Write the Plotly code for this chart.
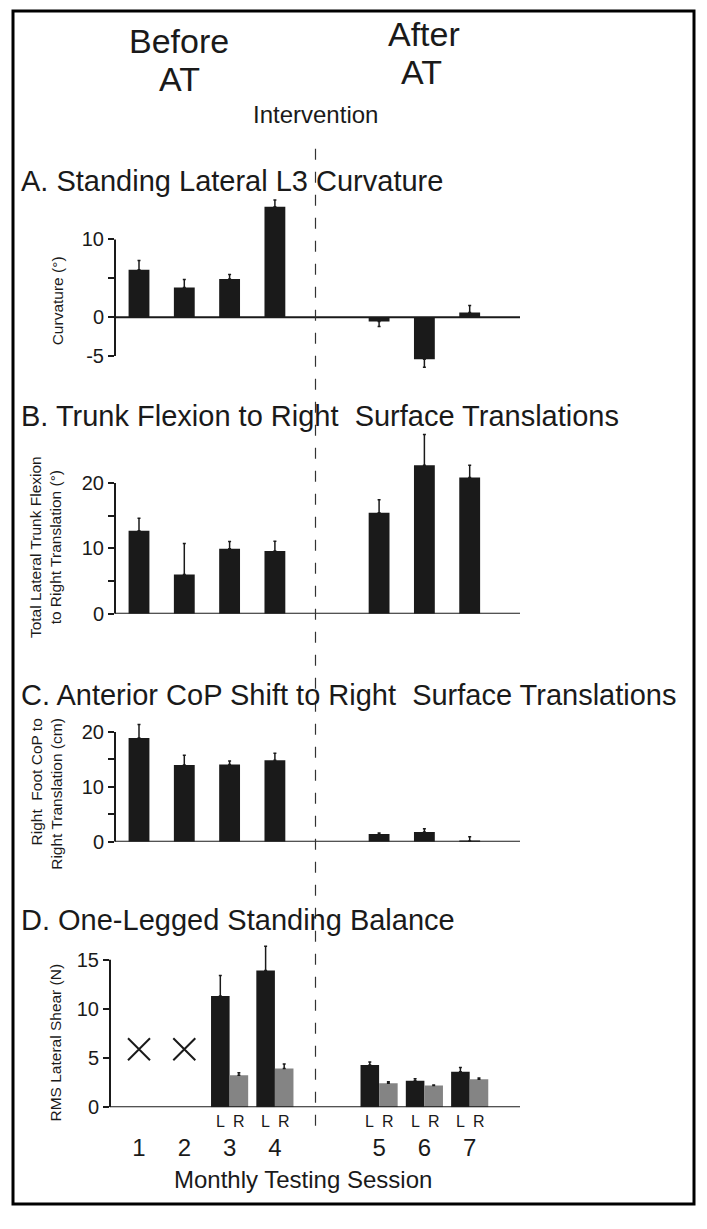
import plotly.graph_objects as go

# ---------------- data ----------------
sessions = [1, 2, 3, 4, 5, 6, 7]
session_labels = ["1", "2", "3", "4", "5", "6", "7"]

curvature = [6.1, 3.8, 4.9, 14.2, -0.55, -5.4, 0.6]
curvature_err = [1.2, 1.05, 0.6, 0.85, 0.65, 1.05, 0.9]

trunk_flexion = [12.7, 6.0, 9.95, 9.6, 15.45, 22.7, 20.85]
trunk_flexion_err = [1.9, 4.75, 1.1, 1.5, 2.0, 4.7, 1.85]

cop_shift = [18.9, 14.0, 14.1, 14.85, 1.4, 1.75, 0.1]
cop_shift_err = [2.5, 1.75, 0.6, 1.3, 0.2, 0.6, 0.8]

lr_sessions = [3, 4, 5, 6, 7]
shear_left = [11.3, 13.9, 4.3, 2.7, 3.6]
shear_left_err = [2.1, 2.45, 0.3, 0.2, 0.45]
shear_right = [3.25, 3.95, 2.45, 2.2, 2.85]
shear_right_err = [0.25, 0.45, 0.15, 0.05, 0.13]

missing_sessions = [1, 2]
missing_marker_level = [5.9, 5.9]

# ---------------- layout constants ----------------
PAGE_W, PAGE_H = 707, 1229
BODY_MARGIN = 8          # default page margin around the plot div
W, H = PAGE_W - 2 * BODY_MARGIN, PAGE_H - 2 * BODY_MARGIN
FONT = "Liberation Sans, Arial, Helvetica, sans-serif"
DARK = "#1a1a1a"
GREY = "#848484"
INTERVENTION_GAP = 1.3
PX_PER_SESSION = 45.3
SESSION1_PX = 139.0
BAR_W = 0.46
PAIR_W = 0.41


def xpos(s):
    return s + (INTERVENTION_GAP if s > 4 else 0)


def px_to_x(px):
    return 1 + (px - SESSION1_PX) / PX_PER_SESSION


def xp(px):
    return (px - BODY_MARGIN) / W


def yp(px):
    return 1 - (px - BODY_MARGIN) / H


def sfx(i):
    return "" if i == 1 else str(i)


# panel geometry (page pixels): x-left, x-right, top, bottom, zero line, px per unit
panels = {
    1: dict(xl=115, xr=520, top=195, bot=378, zero=320.0, ppu=7.85,
            tickvals=[-5, 0, 5, 10], ticktext=["-5", "0", "", "10"], axis=(-5, 10)),
    2: dict(xl=115, xr=520, top=430, bot=619.3, zero=619.3, ppu=6.6,
            tickvals=[0, 5, 10, 15, 20], ticktext=["0", "", "10", "", "20"], axis=(0, 20)),
    3: dict(xl=115, xr=520, top=725, bot=849.3, zero=849.3, ppu=5.53,
            tickvals=[0, 5, 10, 15, 20], ticktext=["0", "", "10", "", "20"], axis=(0, 20)),
    4: dict(xl=110, xr=520, top=948, bot=1117.3, zero=1117.3, ppu=9.93,
            tickvals=[0, 5, 10, 15], ticktext=["0", "5", "10", "15"], axis=(0, 15)),
}

fig = go.Figure()


def err(values, errs):
    up = [e if v >= 0 else 0 for v, e in zip(values, errs)]
    dn = [e if v < 0 else 0 for v, e in zip(values, errs)]
    return dict(type="data", symmetric=False, array=up, arrayminus=dn,
                color=DARK, thickness=1.5, width=1.5)


single_series = {1: (curvature, curvature_err), 2: (trunk_flexion, trunk_flexion_err),
                 3: (cop_shift, cop_shift_err)}
for i, (vals, errs) in single_series.items():
    fig.add_trace(go.Bar(
        x=[xpos(s) for s in sessions], y=vals, width=BAR_W,
        marker=dict(color=DARK, line=dict(width=0)),
        error_y=err(vals, errs),
        xaxis=f"x{sfx(i)}", yaxis=f"y{sfx(i)}", showlegend=False))

fig.add_trace(go.Bar(
    x=[xpos(s) for s in lr_sessions], y=shear_left, width=PAIR_W, offset=-PAIR_W,
    marker=dict(color=DARK, line=dict(width=0)),
    error_y=err(shear_left, shear_left_err),
    xaxis="x4", yaxis="y4", showlegend=False))
fig.add_trace(go.Bar(
    x=[xpos(s) for s in lr_sessions], y=shear_right, width=PAIR_W, offset=0,
    marker=dict(color=GREY, line=dict(width=0)),
    error_y=err(shear_right, shear_right_err),
    xaxis="x4", yaxis="y4", showlegend=False))
fig.add_trace(go.Scatter(
    x=[xpos(s) for s in missing_sessions], y=missing_marker_level, mode="markers",
    marker=dict(symbol="x-thin", size=22, line=dict(width=2, color=DARK), color=DARK),
    xaxis="x4", yaxis="y4", showlegend=False, cliponaxis=False))

layout = dict(
    width=W, height=H, margin=dict(l=0, r=0, t=0, b=0),
    paper_bgcolor="white", plot_bgcolor="rgba(0,0,0,0)",
    barmode="overlay", showlegend=False,
    font=dict(family=FONT, color=DARK),
)

shapes = []
for i, p in panels.items():
    s = sfx(i)
    xa = dict(domain=[xp(p["xl"]), xp(p["xr"])],
              range=[px_to_x(p["xl"]), px_to_x(p["xr"])],
              showgrid=False, zeroline=False, showline=False, ticks="",
              showticklabels=False, anchor=f"y{s}", fixedrange=True)
    if i == 4:
        xa.update(showticklabels=True, tickvals=[xpos(v) for v in sessions],
                  ticktext=session_labels, tickfont=dict(size=24, family=FONT, color=DARK),
                  ticklabelstandoff=24)
    ya = dict(domain=[yp(p["bot"]), yp(p["top"])],
              range=[(p["zero"] - p["bot"]) / p["ppu"], (p["zero"] - p["top"]) / p["ppu"]],
              showgrid=False, zeroline=False, showline=False,
              ticks="outside", ticklen=6, tickwidth=1.5, tickcolor=DARK,
              tickvals=p["tickvals"], ticktext=p["ticktext"],
              tickfont=dict(size=20, family=FONT, color=DARK),
              anchor=f"x{s}", fixedrange=True)
    layout[f"xaxis{s}"] = xa
    layout[f"yaxis{s}"] = ya
    shapes.append(dict(type="line", xref=f"x{s} domain", yref=f"y{s}",
                       x0=0, x1=0, y0=p["axis"][0], y1=p["axis"][1],
                       line=dict(color=DARK, width=2)))
    shapes.append(dict(type="line", xref=f"x{s} domain", yref=f"y{s}",
                       x0=0, x1=1, y0=0, y1=0, line=dict(color=DARK, width=2)))

# intervention dashed line
shapes.append(dict(type="line", xref="paper", yref="paper",
                   x0=xp(315.5), x1=xp(315.5), y0=yp(150), y1=yp(1137),
                   line=dict(color="#333333", width=1.2, dash="11px,12px")))
# frame
shapes.append(dict(type="rect", xref="paper", yref="paper",
                   x0=xp(13), x1=xp(694), y0=yp(11), y1=yp(1215),
                   line=dict(color="black", width=3)))
layout["shapes"] = shapes

ann = []


def text(x, y, s, size, xanchor="center", angle=0, align="center"):
    ann.append(dict(xref="paper", yref="paper", x=xp(x), y=yp(y), text=s,
                    showarrow=False, xanchor=xanchor, yanchor="middle",
                    textangle=angle, align=align,
                    font=dict(size=size, family=FONT, color=DARK)))


text(178.5, 41, "Before", 34)
text(179.5, 80, "AT", 34)
text(424, 34, "After", 34)
text(421.5, 73, "AT", 34)
text(315, 115, "Intervention", 24)

text(19, 183, "A. Standing Lateral L3 Curvature", 29, xanchor="left")
text(19, 420, "B. Trunk Flexion to Right  Surface Translations", 29, xanchor="left")
text(19, 701, "C. Anterior CoP Shift to Right  Surface Translations", 29, xanchor="left")
text(19, 928, "D. One-Legged Standing Balance", 29, xanchor="left")

text(57, 303, "Curvature (°)", 15.5, angle=-90)
text(45, 552, "Total Lateral Trunk Flexion<br>to Right Translation (°)", 15.5, angle=-90)
text(47, 801, "Right  Foot CoP to<br>Right Translation (cm)", 15.5, angle=-90, align="right")
text(56, 1052, "RMS Lateral Shear (N)", 15.5, angle=-90)

text(303, 1190, "Monthly Testing Session", 24)

for s in lr_sessions:
    for lab, off in (("L", -PAIR_W / 2), ("R", PAIR_W / 2)):
        ann.append(dict(xref="x4", yref="paper", x=xpos(s) + off, y=yp(1132), text=lab,
                        showarrow=False, xanchor="center", yanchor="middle",
                        font=dict(size=16, family=FONT, color=DARK)))

layout["annotations"] = ann
fig.update_layout(**layout)
fig.write_html("out.html")
